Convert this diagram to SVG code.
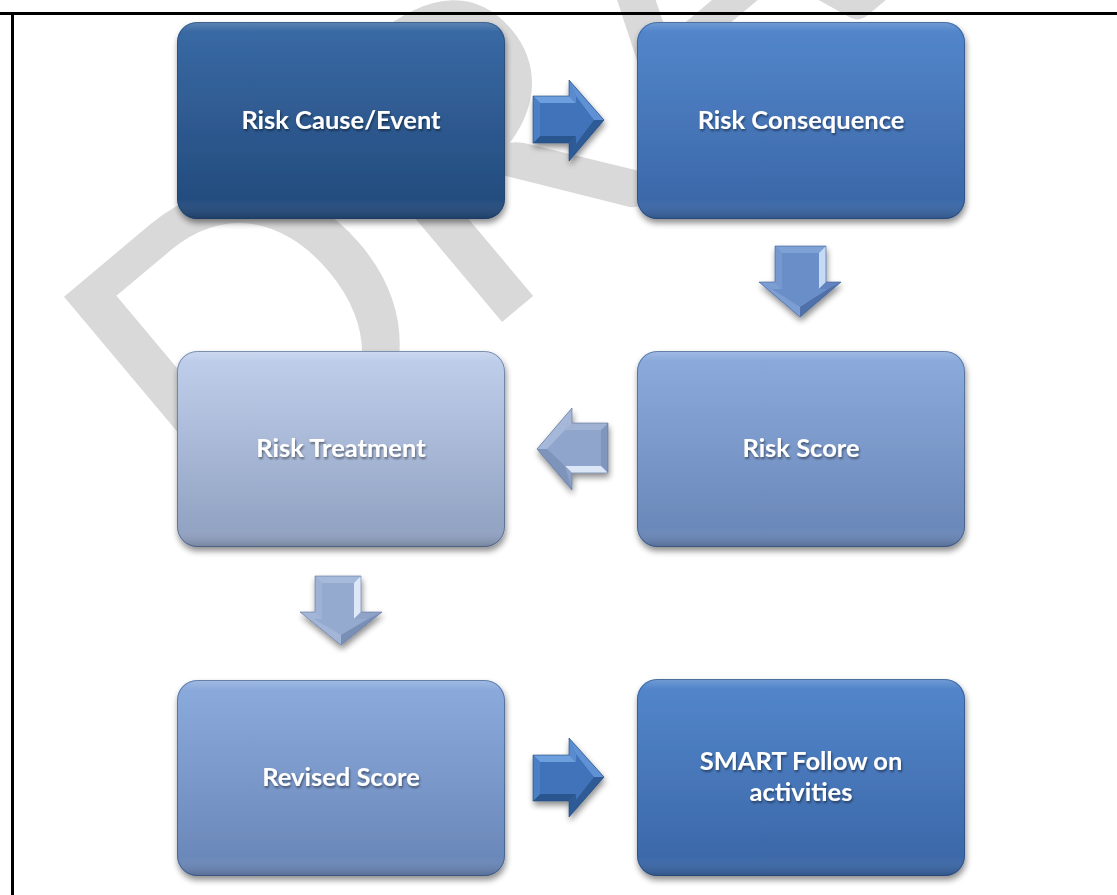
<svg xmlns="http://www.w3.org/2000/svg" width="1117" height="895" viewBox="0 0 1117 895">
  <defs>
    <style>
      .lbl { font-family: Lato, "Liberation Sans", sans-serif; font-weight: 700; font-size: 25.5px; fill: #ffffff; text-anchor: middle; }
      .wm { font-family: Lato, "Liberation Sans", sans-serif; font-weight: 400; font-size: 420px; fill: #d9d9d9; }
      .frame { stroke: #000; stroke-width: 3; fill: none; }
      .gloss { fill: url(#gloss); }
      .edge { fill: none; stroke: #1e3a60; stroke-opacity: 0.45; stroke-width: 1; }
    </style>
    <filter id="shadow" x="-10%" y="-10%" width="125%" height="130%">
      <feGaussianBlur in="SourceAlpha" stdDeviation="3"/>
      <feOffset dx="1" dy="4" result="b"/>
      <feComponentTransfer><feFuncA type="linear" slope="0.45"/></feComponentTransfer>
      <feMerge><feMergeNode/><feMergeNode in="SourceGraphic"/></feMerge>
    </filter>
    <filter id="tshadow" x="-10%" y="-30%" width="120%" height="170%">
      <feGaussianBlur in="SourceAlpha" stdDeviation="1"/>
      <feOffset dx="1" dy="2"/>
      <feComponentTransfer><feFuncA type="linear" slope="0.45"/></feComponentTransfer>
      <feMerge><feMergeNode/><feMergeNode in="SourceGraphic"/></feMerge>
    </filter>
    <linearGradient id="gloss" x1="0" y1="0" x2="0" y2="1">
      <stop offset="0" stop-color="#ffffff" stop-opacity="0.22"/>
      <stop offset="0.05" stop-color="#ffffff" stop-opacity="0.05"/>
      <stop offset="0.9" stop-color="#ffffff" stop-opacity="0"/>
      <stop offset="1" stop-color="#000000" stop-opacity="0.18"/>
    </linearGradient>
    <linearGradient id="gDark" x1="0" y1="0" x2="0" y2="1">
      <stop offset="0" stop-color="#2f62a0"/><stop offset="1" stop-color="#234a7b"/>
    </linearGradient>
    <linearGradient id="gMid" x1="0" y1="0" x2="0" y2="1">
      <stop offset="0" stop-color="#4a80c9"/><stop offset="1" stop-color="#3a66a5"/>
    </linearGradient>
    <linearGradient id="gSoft" x1="0" y1="0" x2="0" y2="1">
      <stop offset="0" stop-color="#86a7db"/><stop offset="1" stop-color="#6885b6"/>
    </linearGradient>
    <linearGradient id="gPale" x1="0" y1="0" x2="0" y2="1">
      <stop offset="0" stop-color="#bdcdeb"/><stop offset="1" stop-color="#8e9fbf"/>
    </linearGradient>
  </defs>

  <rect width="1117" height="895" fill="#ffffff"/>

  <!-- watermark -->
  <g id="watermark">
    <text class="wm" x="0" y="0" transform="translate(228,552) rotate(-40)">DRAFT</text>
  </g>

  <!-- page frame: top and left rules -->
  <path class="frame" d="M0 13.5 H1117 M12.5 12 V895"/>

  <!-- nodes -->
  <g id="node-cause" filter="url(#shadow)">
    <rect x="177" y="22" width="328" height="197" rx="20" fill="url(#gDark)"/>
    <rect class="gloss" x="177" y="22" width="328" height="197" rx="20"/>
    <rect class="edge" x="177.5" y="22.5" width="327" height="196" rx="20"/>
    <text class="lbl" x="341" y="129" filter="url(#tshadow)">Risk Cause/Event</text>
  </g>
  <g id="node-consequence" filter="url(#shadow)">
    <rect x="637" y="22" width="328" height="197" rx="20" fill="url(#gMid)"/>
    <rect class="gloss" x="637" y="22" width="328" height="197" rx="20"/>
    <rect class="edge" x="637.5" y="22.5" width="327" height="196" rx="20"/>
    <text class="lbl" x="801" y="129" filter="url(#tshadow)">Risk Consequence</text>
  </g>
  <g id="node-treatment" filter="url(#shadow)">
    <rect x="177" y="351" width="328" height="196" rx="20" fill="url(#gPale)"/>
    <rect class="gloss" x="177" y="351" width="328" height="196" rx="20"/>
    <rect class="edge" x="177.5" y="351.5" width="327" height="195" rx="20"/>
    <text class="lbl" x="341" y="457" filter="url(#tshadow)">Risk Treatment</text>
  </g>
  <g id="node-score" filter="url(#shadow)">
    <rect x="637" y="351" width="328" height="196" rx="20" fill="url(#gSoft)"/>
    <rect class="gloss" x="637" y="351" width="328" height="196" rx="20"/>
    <rect class="edge" x="637.5" y="351.5" width="327" height="195" rx="20"/>
    <text class="lbl" x="801" y="457" filter="url(#tshadow)">Risk Score</text>
  </g>
  <g id="node-revised" filter="url(#shadow)">
    <rect x="177" y="680" width="328" height="196" rx="20" fill="url(#gSoft)"/>
    <rect class="gloss" x="177" y="680" width="328" height="196" rx="20"/>
    <rect class="edge" x="177.5" y="680.5" width="327" height="195" rx="20"/>
    <text class="lbl" x="341" y="786" filter="url(#tshadow)">Revised Score</text>
  </g>
  <g id="node-smart" filter="url(#shadow)">
    <rect x="637" y="679" width="328" height="197" rx="20" fill="url(#gMid)"/>
    <rect class="gloss" x="637" y="679" width="328" height="197" rx="20"/>
    <rect class="edge" x="637.5" y="679.5" width="327" height="196" rx="20"/>
    <text class="lbl" x="801" y="770" filter="url(#tshadow)">SMART Follow on</text>
    <text class="lbl" x="801" y="801" filter="url(#tshadow)">activities</text>
  </g>

  <!-- connectors: bevelled block arrows -->
  <g id="connectors">
    <g id="arrow-cause-consequence" filter="url(#shadow)">
      <polygon points="533,96 569,96 569,80 604,120 569,161 569,143 533,143" fill="#3f73b9"/>
      <polygon points="533,96 569,96 576,103 540,103" fill="#6d9edd"/>
      <polygon points="569,96 569,80 576,96 576,103" fill="#5a8bcf"/>
      <polygon points="569,80 604,120 594,120 576,96" fill="#5f91d4"/>
      <polygon points="604,120 569,161 576,144 594,120" fill="#2e5a96"/>
      <polygon points="569,161 569,143 576,136 576,144" fill="#2e5a96"/>
      <polygon points="569,143 533,143 540,136 576,136" fill="#2c5690"/>
      <polygon points="533,143 533,96 540,103 540,136" fill="#4b80c4"/>
      <polygon points="533,96 569,96 569,80 604,120 569,161 569,143 533,143" fill="none" stroke="#24487a" stroke-opacity="0.6"/>
    </g>
    <g id="arrow-consequence-score" filter="url(#shadow)">
      <polygon points="775,246 826,246 826,282 841,282 800,317 759,282 775,282" fill="#6b8fc8"/>
      <polygon points="775,246 826,246 819,253 782,253" fill="#7fa2d6"/>
      <polygon points="826,246 826,282 819,289 819,253" fill="#c4daf5"/>
      <polygon points="826,282 841,282 828,289 819,289" fill="#6283bd"/>
      <polygon points="841,282 800,317 800,307 828,289" fill="#4f70a8"/>
      <polygon points="800,317 759,282 772,289 800,307" fill="#7b9ed3"/>
      <polygon points="759,282 775,282 782,289 772,289" fill="#7b9ed3"/>
      <polygon points="775,282 775,246 782,253 782,289" fill="#7698cf"/>
      <polygon points="775,246 826,246 826,282 841,282 800,317 759,282 775,282" fill="none" stroke="#3d5f96" stroke-opacity="0.6"/>
    </g>
    <g id="arrow-score-treatment" filter="url(#shadow)">
      <polygon points="608,423 608,473 572,473 572,490 537,449 572,408 572,423" fill="#8fa5cb"/>
      <polygon points="608,423 608,473 601,466 601,430" fill="#8196bd"/>
      <polygon points="608,473 572,473 565,466 601,466" fill="#dbe6f6"/>
      <polygon points="572,473 572,490 565,466" fill="#8ea2c7"/>
      <polygon points="572,490 537,449 547,449 565,466" fill="#7f94ba"/>
      <polygon points="537,449 572,408 565,430 547,449" fill="#a6b8d9"/>
      <polygon points="572,408 572,423 565,430" fill="#a6b8d9"/>
      <polygon points="572,423 608,423 601,430 565,430" fill="#9fb2d4"/>
      <polygon points="608,423 608,473 572,473 572,490 537,449 572,408 572,423" fill="none" stroke="#5b6e92" stroke-opacity="0.6"/>
    </g>
    <g id="arrow-treatment-revised" filter="url(#shadow)">
      <polygon points="315,576 361,576 361,612 382,612 341,645 300,612 315,612" fill="#95aacf"/>
      <polygon points="315,576 361,576 354,583 322,583" fill="#a6badc"/>
      <polygon points="361,576 361,612 354,619 354,583" fill="#dde8f8"/>
      <polygon points="361,612 382,612 368,619 354,619" fill="#8fa3c8"/>
      <polygon points="382,612 341,645 341,635 368,619" fill="#7a8fb5"/>
      <polygon points="341,645 300,612 314,619 341,635" fill="#a3b6d8"/>
      <polygon points="300,612 315,612 322,619 314,619" fill="#a3b6d8"/>
      <polygon points="315,612 315,576 322,583 322,619" fill="#9eb2d5"/>
      <polygon points="315,576 361,576 361,612 382,612 341,645 300,612 315,612" fill="none" stroke="#63779c" stroke-opacity="0.6"/>
    </g>
    <g id="arrow-revised-smart" filter="url(#shadow)">
      <polygon points="533,755 569,755 569,738 604,777 569,817 569,801 533,801" fill="#3f73b9"/>
      <polygon points="533,755 569,755 576,762 540,762" fill="#6d9edd"/>
      <polygon points="569,755 569,738 576,754 576,762" fill="#5a8bcf"/>
      <polygon points="569,738 604,777 594,777 576,754" fill="#5f91d4"/>
      <polygon points="604,777 569,817 576,800 594,777" fill="#2e5a96"/>
      <polygon points="569,817 569,801 576,794 576,800" fill="#2e5a96"/>
      <polygon points="569,801 533,801 540,794 576,794" fill="#2c5690"/>
      <polygon points="533,801 533,755 540,762 540,794" fill="#4b80c4"/>
      <polygon points="533,755 569,755 569,738 604,777 569,817 569,801 533,801" fill="none" stroke="#24487a" stroke-opacity="0.6"/>
    </g>
  </g>
</svg>
